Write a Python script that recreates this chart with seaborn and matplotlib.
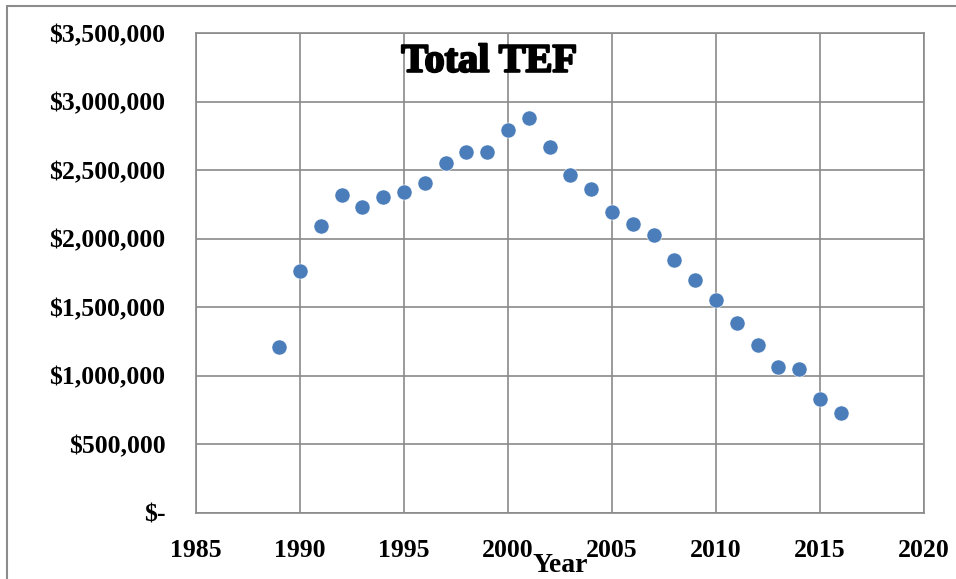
import matplotlib
matplotlib.use('Agg')
import matplotlib.pyplot as plt
import matplotlib.patheffects as pe
from matplotlib.lines import Line2D
from matplotlib.ticker import FuncFormatter
import seaborn as sns
import pandas as pd

years = [1989, 1990, 1991, 1992, 1993, 1994, 1995, 1996, 1997, 1998,
         1999, 2000, 2001, 2002, 2003, 2004, 2005, 2006, 2007, 2008,
         2009, 2010, 2011, 2012, 2013, 2014, 2015, 2016]
tef = [1207000, 1766000, 2093000, 2319000, 2234000, 2307000, 2339000,
       2407000, 2555000, 2633000, 2631000, 2791000, 2881000, 2667000,
       2467000, 2365000, 2195000, 2109000, 2029000, 1845000, 1699000,
       1553000, 1382000, 1222000, 1063000, 1051000, 830000, 728000]
x_ticks = [1985, 1990, 1995, 2000, 2005, 2010, 2015, 2020]
y_ticks = [0, 500000, 1000000, 1500000, 2000000, 2500000, 3000000, 3500000]

df = pd.DataFrame({'Year': years, 'TEF': tef})

sns.set_style('white')
plt.rcParams['font.family'] = ['Liberation Serif', 'DejaVu Serif']
plt.rcParams['font.weight'] = 'bold'
plt.rcParams['text.color'] = 'black'
plt.rcParams['axes.labelcolor'] = 'black'
plt.rcParams['xtick.color'] = 'black'
plt.rcParams['ytick.color'] = 'black'

W, H = 956, 579
fig = plt.figure(figsize=(W / 100, H / 100), dpi=100)
ax = fig.add_axes([196 / W, 1 - 512.7 / H, (924 - 196) / W, (512.7 - 33.2) / H])

grid_c = '#8a8a8a'
sns.scatterplot(data=df, x='Year', y='TEF', ax=ax, color='#4a7dba',
                s=118, edgecolor='white', linewidth=0.4, zorder=3, legend=False)

ax.set_xlim(1985, 2020)
ax.set_ylim(0, 3500000)
ax.set_xticks(x_ticks)
ax.set_yticks(y_ticks)


def money(v, pos):
    if v == 0:
        return '$-'
    return '${:,.0f}'.format(v)


ax.yaxis.set_major_formatter(FuncFormatter(money))
ax.grid(True, color=grid_c, linewidth=1.2)
ax.set_axisbelow(True)
for sp in ax.spines.values():
    sp.set_color(grid_c)
    sp.set_linewidth(1.2)

ax.tick_params(axis='both', length=0, labelsize=18.5, colors='black')
ax.tick_params(axis='y', pad=22)
ax.tick_params(axis='x', pad=19)
for lab in ax.get_xticklabels() + ax.get_yticklabels():
    lab.set_fontweight('bold')

ax.set_ylabel('')
ax.set_xlabel('Year', fontsize=20, fontweight='bold', va='baseline', color='black')
ax.xaxis.set_label_coords(0.5, -0.1237)

fig.text(489 / W, 1 - 71.7 / H, 'Total TEF', ha='center', va='baseline',
         fontsize=29, fontweight='bold', color='black',
         path_effects=[pe.withStroke(linewidth=1.6, foreground='black')])

# outer chart-area border (left and top edges visible)
fig.add_artist(Line2D([7 / W, 7 / W], [0, 1 - 6 / H], transform=fig.transFigure,
                      color='#8c8c8c', linewidth=1.5))
fig.add_artist(Line2D([7 / W, 1], [1 - 6 / H, 1 - 6 / H], transform=fig.transFigure,
                      color='#8c8c8c', linewidth=1.5))

fig.savefig('out.png', dpi=100)
